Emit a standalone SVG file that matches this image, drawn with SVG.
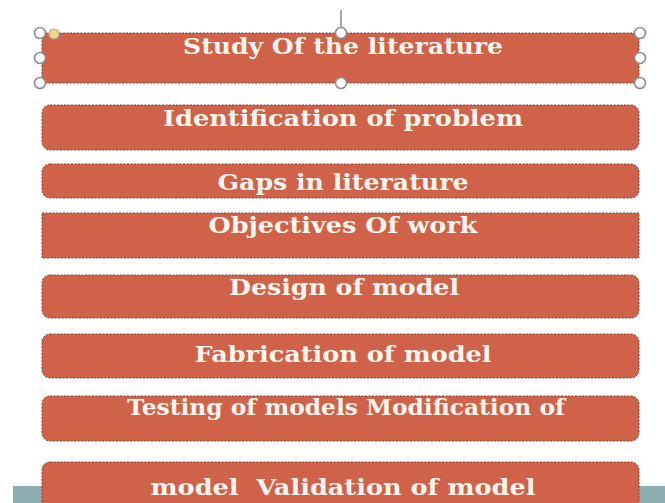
<svg xmlns="http://www.w3.org/2000/svg" width="665" height="503" viewBox="0 0 665 503">
  <style>
    .box { fill: #cf6249; stroke: #7e4638; stroke-width: 1; stroke-dasharray: 2 1.5; }
    .lbl { fill: #fdf6ee; font-family: "DejaVu Serif", "Liberation Serif", serif; font-weight: bold; font-size: 22px; text-anchor: middle; }
    .handle { fill: #ffffff; stroke: #8e8e8e; stroke-width: 1.6; }
    .stem { stroke: #7a7a7a; stroke-width: 1.3; }
  </style>
  <rect width="665" height="503" fill="#ffffff"/>
  <!-- footer band -->
  <rect x="13" y="486" width="652" height="17" fill="#8caeb1"/>

  <g id="connectors">
    <line class="stem" x1="341" y1="10" x2="341" y2="27"/>
  </g>

  <g id="study">
    <rect class="box" x="42" y="33" width="597" height="50"/>
    <text class="lbl" x="343" y="54" textLength="320" lengthAdjust="spacingAndGlyphs">Study Of the literature</text>
    <!-- selection handles -->
    <circle class="handle" cx="40" cy="33" r="5.5"/>
    <circle class="handle" cx="40" cy="58" r="5.5"/>
    <circle class="handle" cx="40" cy="83" r="5.5"/>
    <circle class="handle" cx="341" cy="33" r="5.5"/>
    <circle class="handle" cx="341" cy="83" r="5.5"/>
    <circle class="handle" cx="640" cy="33" r="5.5"/>
    <circle class="handle" cx="640" cy="58" r="5.5"/>
    <circle class="handle" cx="640" cy="83" r="5.5"/>
    <circle cx="54" cy="34" r="5" fill="#f3d77a" stroke="#a9a9a9" stroke-width="1.2"/>
  </g>

  <g id="identification">
    <rect class="box" x="42" y="105" width="597" height="45" rx="8"/>
    <text class="lbl" x="343" y="126" textLength="360" lengthAdjust="spacingAndGlyphs">Identification of problem</text>
  </g>

  <g id="gaps">
    <rect class="box" x="42" y="164" width="597" height="34" rx="8"/>
    <text class="lbl" x="343" y="190" textLength="251" lengthAdjust="spacingAndGlyphs">Gaps in literature</text>
  </g>

  <g id="objectives">
    <rect class="box" x="42" y="213" width="597" height="45"/>
    <text class="lbl" x="343" y="233" textLength="269" lengthAdjust="spacingAndGlyphs">Objectives Of work</text>
  </g>

  <g id="design">
    <rect class="box" x="42" y="275" width="597" height="43" rx="8"/>
    <text class="lbl" x="344" y="295" textLength="230" lengthAdjust="spacingAndGlyphs">Design of model</text>
  </g>

  <g id="fabrication">
    <rect class="box" x="42" y="334" width="597" height="44" rx="8"/>
    <text class="lbl" x="343" y="362" textLength="297" lengthAdjust="spacingAndGlyphs">Fabrication of model</text>
  </g>

  <g id="testing">
    <rect class="box" x="42" y="396" width="597" height="45" rx="8"/>
    <text class="lbl" x="346" y="415" textLength="438" lengthAdjust="spacingAndGlyphs">Testing of models Modification of</text>
  </g>

  <g id="validation">
    <rect class="box" x="42" y="462" width="597" height="50" rx="8"/>
    <text class="lbl" x="343" y="495" textLength="385" lengthAdjust="spacingAndGlyphs" xml:space="preserve">model  Validation of model</text>
  </g>
</svg>
